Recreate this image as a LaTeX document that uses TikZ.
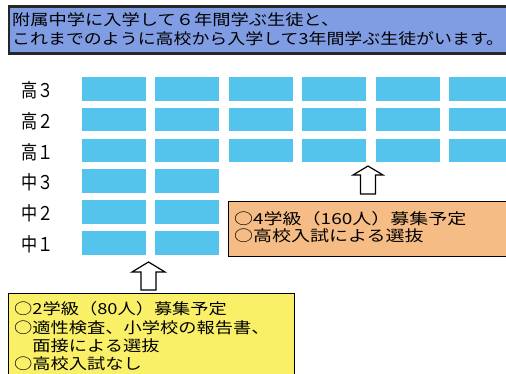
\documentclass[tikz,border=0pt]{standalone}
\usepackage{fontspec}
\usepackage{graphicx}
\newfontfamily\jp{Noto Sans CJK JP}
\definecolor{topblue}{RGB}{128,156,226}
\definecolor{cellblue}{RGB}{84,196,236}
\definecolor{orangefill}{RGB}{246,188,134}
\definecolor{yellowfill}{RGB}{250,240,104}
\tikzset{
  cell/.style={fill=cellblue, draw=none, inner sep=0pt, minimum width=64pt, minimum height=23.5pt},
  rowlabel/.style={anchor=base west, inner sep=0pt, font=\jp\fontsize{19}{19}\selectfont},
  toptext/.style={anchor=base west, inner sep=0pt, font=\jp\fontsize{15.2}{15.2}\selectfont},
  boxtext/.style={anchor=base west, inner sep=0pt, font=\jp\fontsize{15.2}{15.2}\selectfont},
  infobox/.style={draw=black, line width=1.5pt, anchor=north west, inner sep=0pt},
  blockarrow/.style={draw=black, fill=white, line width=1.2pt, line join=miter},
}
\begin{document}
\begin{tikzpicture}[x=1pt,y=-1pt]
\useasboundingbox (0,0) rectangle (506,373);
\clip (0,0) rectangle (506,373);
% top banner
\node[draw=black!85, line width=2.5pt, fill=topblue, anchor=north west, minimum width=520pt, minimum height=47pt, inner sep=0pt] (banner) at (7.5,5) {};
\node[toptext] (t1) at (12,25.5) {\scalebox{1.2}[1]{附属中学に入学して６年間学ぶ生徒と、}};
\node[toptext] (t2) at (12,44.5) {\scalebox{1.18}[1]{これまでのように高校から入学して3年間学ぶ生徒がいます。}};
% grid cells
\foreach \r in {0,1,2}{
  \foreach \c in {0,...,5}{
    \node[cell] (c\r\c) at ({114+73.4*\c},{88.75+30.8*\r}) {};
  }
}
\foreach \r in {3,4,5}{
  \foreach \c in {0,1}{
    \node[cell] (c\r\c) at ({114+73.4*\c},{88.75+30.8*\r}) {};
  }
}
% row labels
\node[rowlabel] (l0) at (21,97.5) {\scalebox{0.85}[1]{高３}};
\node[rowlabel] (l1) at (21,128.3) {\scalebox{0.85}[1]{高２}};
\node[rowlabel] (l2) at (21,159.1) {\scalebox{0.85}[1]{高１}};
\node[rowlabel] (l3) at (21,189.9) {\scalebox{0.85}[1]{中３}};
\node[rowlabel] (l4) at (21,220.7) {\scalebox{0.85}[1]{中２}};
\node[rowlabel] (l5) at (21,251.5) {\scalebox{0.85}[1]{中１}};
% orange box
\node[infobox, fill=orangefill, minimum width=300pt, minimum height=55pt] (ob) at (227.5,200.5) {};
\node[boxtext] (o1) at (234,224) {\scalebox{1.25}[1]{○4学級（160人）募集予定}};
\node[boxtext] (o2) at (234,241.5) {\scalebox{1.25}[1]{○高校入試による選抜}};
% yellow box
\node[infobox, fill=yellowfill, minimum width=286pt, minimum height=100pt] (yb) at (7.5,292.5) {};
\node[boxtext] (y1) at (14,314) {\scalebox{1.2}[1]{○2学級（80人）募集予定}};
\node[boxtext] (y2) at (14,333.5) {\scalebox{1.2}[1]{○適性検査、小学校の報告書、}};
\node[boxtext] (y3) at (14,351.5) {\scalebox{1.2}[1]{\phantom{○}面接による選抜}};
\node[boxtext] (y4) at (14,369.5) {\scalebox{1.2}[1]{○高校入試なし}};
% hollow arrows
\draw[blockarrow] (360.5,194) -- (360.5,175) -- (353,175) -- (368,166) -- (383,175) -- (375.5,175) -- (375.5,194) -- cycle;
\draw[blockarrow] (141,290) -- (141,272) -- (132,272) -- (148.5,262) -- (165,272) -- (156,272) -- (156,290) -- cycle;
\end{tikzpicture}
\end{document}
